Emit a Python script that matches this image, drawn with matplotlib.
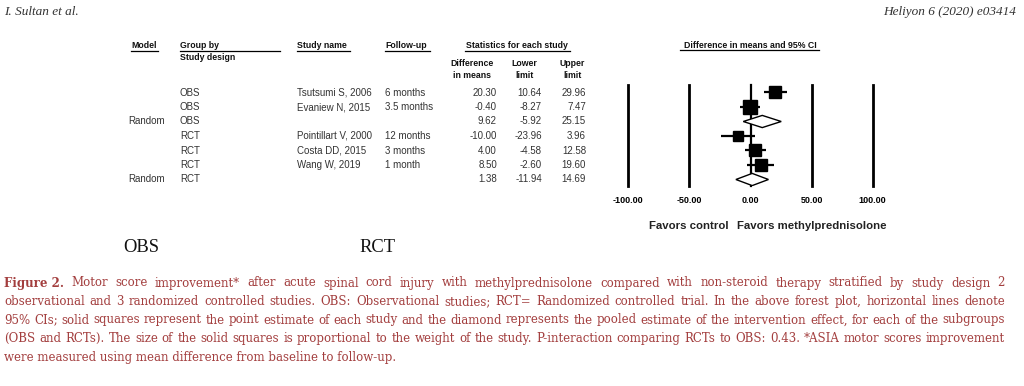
import matplotlib
matplotlib.use("Agg")
import matplotlib.pyplot as plt
from matplotlib.patches import Polygon
from matplotlib.lines import Line2D

# ---------------- data ----------------
models = ["", "", "Random", "", "", "", "Random"]
groups = ["OBS", "OBS", "OBS", "RCT", "RCT", "RCT", "RCT"]
study_names = ["Tsutsumi S, 2006", "Evaniew N, 2015", "", "Pointillart V, 2000",
               "Costa DD, 2015", "Wang W, 2019", ""]
follow_ups = ["6 months", "3.5 months", "", "12 months", "3 months", "1 month", ""]
diff_means = [20.30, -0.40, 9.62, -10.00, 4.00, 8.50, 1.38]
lower_limits = [10.64, -8.27, -5.92, -23.96, -4.58, -2.60, -11.94]
upper_limits = [29.96, 7.47, 25.15, 3.96, 12.58, 19.60, 14.69]
is_pooled = [False, False, True, False, False, False, True]
weights = [8.8, 9.6, 0, 7.4, 8.2, 8.2, 0]   # relative square sizes
xticks = [-100, -50, 0, 50, 100]
xtick_labels = ["-100.00", "-50.00", "0.00", "50.00", "100.00"]

caption_lines = [
    "Motor score improvement* after acute spinal cord injury with methylprednisolone compared with non-steroid therapy stratified by study design 2",
    "observational and 3 randomized controlled studies. OBS: Observational studies; RCT= Randomized controlled trial. In the above forest plot, horizontal lines denote",
    "95% CIs; solid squares represent the point estimate of each study and the diamond represents the pooled estimate of the intervention effect, for each of the subgroups",
    "(OBS and RCTs). The size of the solid squares is proportional to the weight of the study. P-interaction comparing RCTs to OBS: 0.43. *ASIA motor scores improvement",
    "were measured using mean difference from baseline to follow-up.",
]

# ---------------- figure ----------------
W, H = 1024, 386
fig = plt.figure(figsize=(W / 100, H / 100), dpi=100)
fig.patch.set_facecolor("white")


def fx(x):
    return x / W


def fy(y):
    return 1 - y / H


SANS = "Liberation Sans"
SERIF = "Liberation Serif"
CAP_FONT = "DejaVu Serif"
CAP_COLOR = "#a33e3e"

# page header
fig.text(fx(4), fy(12), "I. Sultan et al.", family=SERIF, style="italic",
         fontsize=9.5, color="#333333", va="center", ha="left")
fig.text(fx(1016), fy(12), "Heliyon 6 (2020) e03414", family=SERIF, style="italic",
         fontsize=9.5, color="#333333", va="center", ha="right")


def underline(x0, x1, y):
    fig.add_artist(Line2D([fx(x0), fx(x1)], [fy(y), fy(y)], transform=fig.transFigure,
                          color="black", lw=0.9))


hdr = dict(family=SANS, fontsize=6.3, fontweight="bold", va="center", color="#111111")
fig.text(fx(131), fy(46), "Model", ha="left", **hdr)
underline(131, 158, 50.5)
fig.text(fx(180), fy(46), "Group by", ha="left", **hdr)
underline(180, 280, 50.5)
fig.text(fx(180), fy(57), "Study design", ha="left", **hdr)
fig.text(fx(297), fy(46), "Study name", ha="left", **hdr)
underline(297, 350, 50.5)
fig.text(fx(385), fy(46), "Follow-up", ha="left", **hdr)
underline(385, 430, 50.5)
fig.text(fx(517), fy(46), "Statistics for each study", ha="center", **hdr)
underline(465, 570, 50.5)
fig.text(fx(750), fy(45), "Difference in means and 95% CI", ha="center", **hdr)
underline(680, 819, 49.5)
fig.text(fx(472), fy(64), "Difference", ha="center", **hdr)
fig.text(fx(472), fy(75), "in means", ha="center", **hdr)
fig.text(fx(524), fy(64), "Lower", ha="center", **hdr)
fig.text(fx(524), fy(75), "limit", ha="center", **hdr)
fig.text(fx(572), fy(64), "Upper", ha="center", **hdr)
fig.text(fx(572), fy(75), "limit", ha="center", **hdr)

# rows
row_y0, row_dy = 92.5, 14.5
rowkw = dict(family=SANS, fontsize=7, va="center", color="#333333")
for i in range(len(groups)):
    y = row_y0 + i * row_dy
    fig.text(fx(128), fy(y), models[i], ha="left", **rowkw)
    fig.text(fx(180), fy(y), groups[i], ha="left", **rowkw)
    fig.text(fx(297), fy(y), study_names[i], ha="left", **rowkw)
    fig.text(fx(385), fy(y), follow_ups[i], ha="left", **rowkw)
    fig.text(fx(497), fy(y), f"{diff_means[i]:.2f}", ha="right", **rowkw)
    fig.text(fx(542), fy(y), f"{lower_limits[i]:.2f}", ha="right", **rowkw)
    fig.text(fx(586), fy(y), f"{upper_limits[i]:.2f}", ha="right", **rowkw)

# forest axes: x -100 -> 628.3 px, 100 -> 872.7 px; y from 85 to 186 px
ax_l, ax_r, ax_t, ax_b = 628.3, 872.7, 85, 186
ax = fig.add_axes([fx(ax_l), fy(ax_b), (ax_r - ax_l) / W, (ax_b - ax_t) / H])
ax.set_xlim(-100, 100)
top_val = -(row_y0 - ax_t) / row_dy
bot_val = (len(groups) - 1) + (ax_b - (row_y0 + (len(groups) - 1) * row_dy)) / row_dy
ax.set_ylim(bot_val, top_val)
for s in ax.spines.values():
    s.set_visible(False)
ax.set_facecolor("none")
for t in xticks:
    ax.axvline(t, color="black", lw=2.0 if t != 0 else 1.6, clip_on=False, zorder=1)
ax.set_xticks(xticks)
ax.set_xticklabels(xtick_labels, family=SANS, fontsize=6.5, fontweight="bold")
ax.tick_params(axis="x", length=0, pad=7)
ax.set_yticks([])

for i in range(len(groups)):
    m, lo, hi = diff_means[i], lower_limits[i], upper_limits[i]
    if is_pooled[i]:
        h = 0.42
        poly = Polygon([(lo, i), (m, i - h), (hi, i), (m, i + h)], closed=True,
                       facecolor="white", edgecolor="black", lw=1.0, zorder=3)
        ax.add_patch(poly)
    else:
        ax.plot([lo, hi], [i, i], color="black", lw=1.6, zorder=2, solid_capstyle="butt")
        ax.plot([m], [i], marker="s", markersize=weights[i], color="black", zorder=3)

fig.text(fx(729), fy(226), "Favors control", family=SANS, fontsize=8.2,
         fontweight="bold", ha="right", va="center", color="#222222")
fig.text(fx(737), fy(226), "Favors methylprednisolone", family=SANS, fontsize=8.2,
         fontweight="bold", ha="left", va="center", color="#222222")

# OBS / RCT labels
fig.text(fx(141), fy(248), "OBS", family=SERIF, fontsize=13.3, ha="center",
         va="center", color="#111111")
fig.text(fx(377), fy(248), "RCT", family=SERIF, fontsize=13.3, ha="center",
         va="center", color="#111111")

# caption (justified)
fig.canvas.draw()
renderer = fig.canvas.get_renderer()


def measure(s, size, weight="normal"):
    t = fig.text(0, 0, s, family=CAP_FONT, fontsize=size, fontweight=weight)
    w = t.get_window_extent(renderer).width
    t.remove()
    return w


# font size so the last (unjustified) line spans ~394 px like the reference
base = 10.0
cap_size = base * 394.0 / measure(caption_lines[-1], base)
left_px, right_px = 4, 1005
line_ys = [283, 301.5, 320, 338.5, 357]

for li, line in enumerate(caption_lines):
    y = fy(line_ys[li])
    if li == len(caption_lines) - 1:
        fig.text(fx(left_px), y, line, family=CAP_FONT, fontsize=cap_size,
                 color=CAP_COLOR, ha="left", va="center")
        continue
    items = []
    if li == 0:
        items.append(("Figure 2.", "bold"))
    items += [(w, "normal") for w in line.split(" ")]
    widths = [measure(w, cap_size, wt) for w, wt in items]
    gap = (right_px - left_px - sum(widths)) / (len(items) - 1)
    x = left_px
    for (w, wt), wd in zip(items, widths):
        fig.text(fx(x), y, w, family=CAP_FONT, fontsize=cap_size, fontweight=wt,
                 color=CAP_COLOR, ha="left", va="center")
        x += wd + gap

fig.savefig("out.png", dpi=100, facecolor="white")
